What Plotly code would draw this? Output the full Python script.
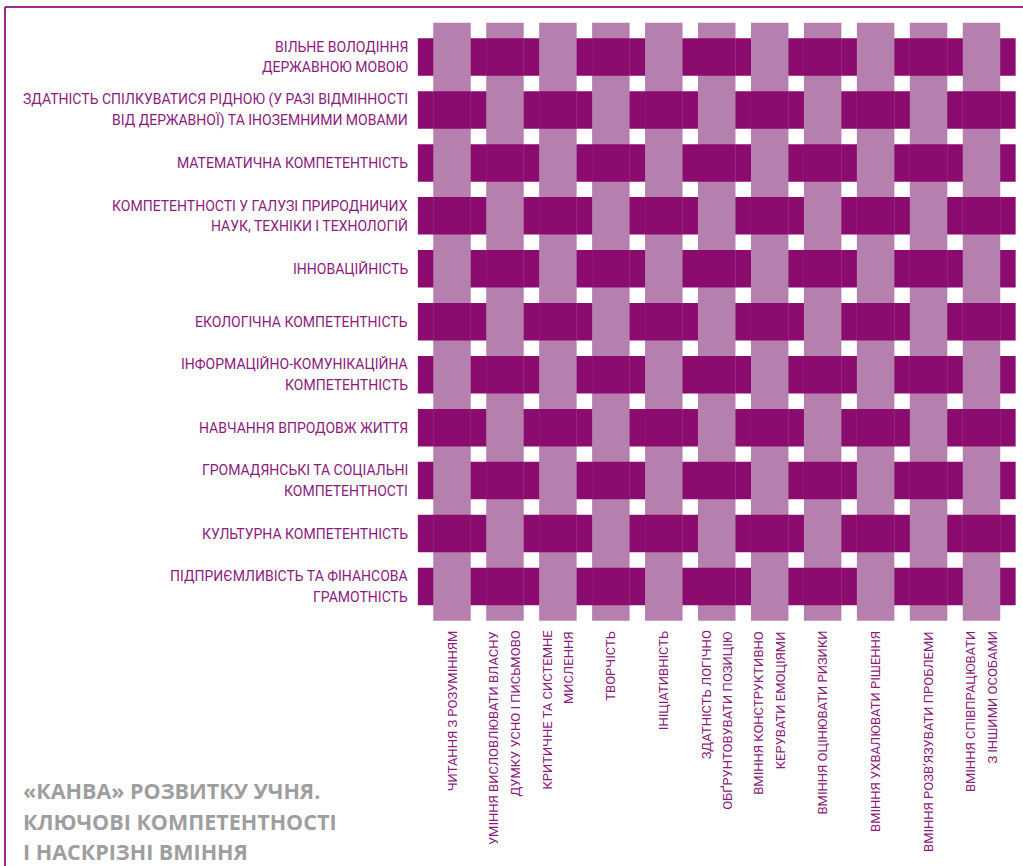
import plotly.graph_objects as go

# ---- data -------------------------------------------------------------
row_labels = [
    "ВІЛЬНЕ ВОЛОДІННЯ<br>ДЕРЖАВНОЮ МОВОЮ",
    "ЗДАТНІСТЬ СПІЛКУВАТИСЯ РІДНОЮ (У РАЗІ ВІДМІННОСТІ<br>ВІД ДЕРЖАВНОЇ) ТА ІНОЗЕМНИМИ МОВАМИ",
    "МАТЕМАТИЧНА КОМПЕТЕНТНІСТЬ",
    "КОМПЕТЕНТНОСТІ У ГАЛУЗІ ПРИРОДНИЧИХ<br>НАУК, ТЕХНІКИ І ТЕХНОЛОГІЙ",
    "ІННОВАЦІЙНІСТЬ",
    "ЕКОЛОГІЧНА КОМПЕТЕНТНІСТЬ",
    "ІНФОРМАЦІЙНО-КОМУНІКАЦІЙНА<br>КОМПЕТЕНТНІСТЬ",
    "НАВЧАННЯ ВПРОДОВЖ ЖИТТЯ",
    "ГРОМАДЯНСЬКІ ТА СОЦІАЛЬНІ<br>КОМПЕТЕНТНОСТІ",
    "КУЛЬТУРНА КОМПЕТЕНТНІСТЬ",
    "ПІДПРИЄМЛИВІСТЬ ТА ФІНАНСОВА<br>ГРАМОТНІСТЬ",
]

col_labels = [
    "ЧИТАННЯ З РОЗУМІННЯМ",
    "УМІННЯ ВИСЛОВЛЮВАТИ ВЛАСНУ<br>ДУМКУ УСНО І ПИСЬМОВО",
    "КРИТИЧНЕ ТА СИСТЕМНЕ<br>МИСЛЕННЯ",
    "ТВОРЧІСТЬ",
    "ІНІЦІАТИВНІСТЬ",
    "ЗДАТНІСТЬ ЛОГІЧНО<br>ОБҐРУНТОВУВАТИ ПОЗИЦІЮ",
    "ВМІННЯ КОНСТРУКТИВНО<br>КЕРУВАТИ ЕМОЦІЯМИ",
    "ВМІННЯ ОЦІНЮВАТИ РИЗИКИ",
    "ВМІННЯ УХВАЛЮВАТИ РІШЕННЯ",
    "ВМІННЯ РОЗВ’ЯЗУВАТИ ПРОБЛЕМИ",
    "ВМІННЯ СПІВПРАЦЮВАТИ<br>З ІНШИМИ ОСОБАМИ",
]

# which strand lies on top in the first crossing of each row (plain weave)
first_over = ["col", "row", "col", "row", "col", "row",
              "col", "row", "col", "row", "col"]

title_lines = [
    "«КАНВА» РОЗВИТКУ УЧНЯ.",
    "КЛЮЧОВІ КОМПЕТЕНТНОСТІ",
    "І НАСКРІЗНІ ВМІННЯ",
]

# ---- style ------------------------------------------------------------
DARK = "#8B0B6F"
LIGHT = "#B580AD"
TEXT = "#8C1B7C"
TITLE = "#9E9E9E"
FRAME = "#9B2A8C"
LABEL_FONT = "Roboto, sans-serif"
ROW_SIZE = 14
COL_SIZE = 13

W, H = 1023, 866
px_per = 52.95          # pixels per strand pitch
x0c, y0c = 452, 57      # pixel centre of first column / first row
STRIP = 0.708
OVER = 0.645
ROW_LINE = 20.5 / px_per
COL_LINE = 21.5 / px_per

n_rows, n_cols = len(row_labels), len(col_labels)
rows = list(range(n_rows))
cols = list(range(n_cols))

fig = go.Figure()

# horizontal strands (key competences)
fig.add_trace(go.Bar(
    orientation="h", y=rows, x=[n_cols - 1 + 2 * OVER] * n_rows, base=-OVER,
    width=STRIP, marker=dict(color=DARK, line=dict(width=0)), hoverinfo="skip"))

# vertical strands (cross-cutting skills)
fig.add_trace(go.Bar(
    x=cols, y=[n_rows - 1 + 2 * OVER] * n_cols, base=-OVER,
    width=STRIP, marker=dict(color=LIGHT, line=dict(width=0)), hoverinfo="skip"))

# crossings where the horizontal strand passes over
cx, cy = [], []
for r in rows:
    for c in cols:
        row_on_top = (first_over[r] == "row") == (c % 2 == 0)
        if row_on_top:
            cx.append(c)
            cy.append(r)
fig.add_trace(go.Bar(
    orientation="h", y=cy, x=[STRIP] * len(cx), base=[c - STRIP / 2 for c in cx],
    width=STRIP, marker=dict(color=DARK, line=dict(width=0)), hoverinfo="skip"))

# row labels (one annotation per line for exact line spacing)
for r, lab in zip(rows, row_labels):
    lines = lab.split("<br>")
    for i, ln in enumerate(lines):
        off = (i - (len(lines) - 1) / 2) * ROW_LINE
        fig.add_annotation(x=-0.80, y=r + off, xref="x", yref="y", text=ln,
                           showarrow=False, xanchor="right", yanchor="middle",
                           font=dict(family=LABEL_FONT, size=ROW_SIZE, color=TEXT))

# column labels
for c, lab in zip(cols, col_labels):
    lines = lab.split("<br>")
    for i, ln in enumerate(lines):
        off = (i - (len(lines) - 1) / 2) * COL_LINE
        fig.add_annotation(x=c + off, y=n_rows - 1 + 0.80, xref="x", yref="y", text=ln,
                           showarrow=False, xanchor="center", yanchor="top",
                           textangle=-90,
                           font=dict(family=LABEL_FONT, size=COL_SIZE, color=TEXT))

# title
for line, py in zip(title_lines, [790, 821, 851]):
    fig.add_annotation(x=21 / W, y=1 - py / H, xref="paper", yref="paper",
                       text=line, showarrow=False, xanchor="left", yanchor="middle",
                       font=dict(family="Open Sans, sans-serif", size=21.5,
                                 color=TITLE, weight=700))

# frame
fig.add_shape(type="line", xref="paper", yref="paper",
              x0=5 / W, x1=1, y0=1 - 7 / H, y1=1 - 7 / H,
              line=dict(color=FRAME, width=2))
fig.add_shape(type="line", xref="paper", yref="paper",
              x0=5 / W, x1=5 / W, y0=1 - 7 / H, y1=0,
              line=dict(color=FRAME, width=2))

fig.update_layout(
    width=W, height=H, margin=dict(l=0, r=0, t=0, b=0),
    paper_bgcolor="white", plot_bgcolor="white",
    barmode="overlay", showlegend=False,
    xaxis=dict(range=[-x0c / px_per, (W - x0c) / px_per], visible=False, fixedrange=True),
    yaxis=dict(range=[(H - y0c) / px_per, -y0c / px_per], visible=False, fixedrange=True),
)

fig.write_html("out.html", config={"displayModeBar": False},
               post_script="document.body.style.margin='0';document.body.style.overflow='hidden';")
